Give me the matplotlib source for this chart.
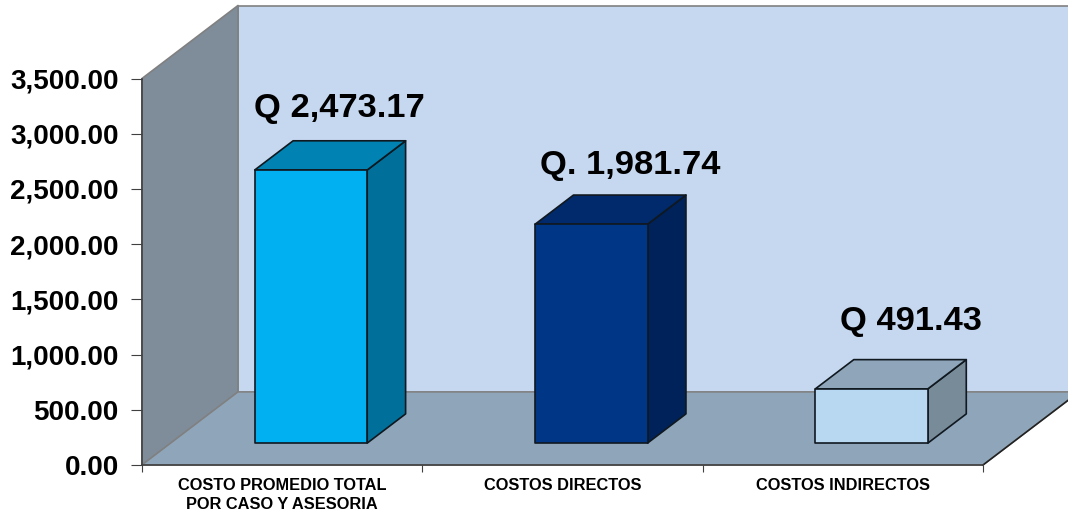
import numpy as np
import matplotlib
matplotlib.use('Agg')
import matplotlib.pyplot as plt
from matplotlib.patches import Polygon

plt.rcParams['font.family'] = ['Liberation Sans', 'DejaVu Sans']

# data
categories = ['COSTO PROMEDIO TOTAL\nPOR CASO Y ASESORIA', 'COSTOS DIRECTOS', 'COSTOS INDIRECTOS']
values = [2473.17, 1981.74, 491.43]
labels = ['Q 2,473.17', 'Q. 1,981.74', 'Q 491.43']
yticks = [0, 500, 1000, 1500, 2000, 2500, 3000, 3500]

# bar colours: front, side, top
front = ['#00B0F0', '#003686', '#B8D8F2']
side = ['#006F9A', '#00225A', '#788B99']
top = ['#0083B3', '#002A6B', '#8FA6BA']

# label centres in data units
label_x = [0.703, 1.741, 2.744]
label_y = [3224, 2708, 1296]

W, H = 1068, 513
fig = plt.figure(figsize=(W/100, H/100), dpi=100)
ax = fig.add_axes([142/W, 1 - 465/H, (983-142)/W, (465-78.5)/H])
ax.set_xlim(0, 3)
ax.set_ylim(0, 3500)
ax.patch.set_visible(False)

# depth of the box in data units
ppx = 3 / (983 - 142)
ppy = 3500 / (465 - 78.5)
dx = 96 * ppx
dy = 73 * ppy

def proj(x, y, z):
    return (x + z*dx, y + z*dy)

def poly(pts, fc, ec='black', lw=1.0, zo=2):
    ax.add_patch(Polygon(pts, closed=True, facecolor=fc, edgecolor=ec, linewidth=lw,
                         clip_on=False, zorder=zo, joinstyle='round'))

# walls and floor
poly([proj(0, 0, 1), proj(3, 0, 1), proj(3, 3500, 1), proj(0, 3500, 1)], '#C6D8F0', '#808080', 1.2, 1)
poly([proj(0, 0, 0), proj(0, 0, 1), proj(0, 3500, 1), proj(0, 3500, 0)], '#7F8C99', '#808080', 1.2, 1)
poly([proj(0, 0, 0), proj(3, 0, 0), proj(3, 0, 1), proj(0, 0, 1)], '#8FA6BA', '#808080', 1.0, 1)
ax.plot(*zip(proj(3, 0, 0), proj(3, 0, 1)), color='#222222', lw=1.2, clip_on=False, zorder=1.5)

# bars
width = 112.5 * ppx
z0, z1 = 0.30, 0.70
for i, v in enumerate(values):
    x0 = i + 0.5 - width/2
    x1 = x0 + width
    base = 0
    # side and top first, front on top
    poly([proj(x1, base, z0), proj(x1, base, z1), proj(x1, v, z1), proj(x1, v, z0)], side[i], '#101820', 1.2, 2)
    poly([proj(x0, v, z0), proj(x1, v, z0), proj(x1, v, z1), proj(x0, v, z1)], top[i], '#101820', 1.2, 2)
    poly([proj(x0, base, z0), proj(x1, base, z0), proj(x1, v, z0), proj(x0, v, z0)], front[i], '#101820', 1.2, 3)
    ax.text(label_x[i], label_y[i], labels[i], ha='center', va='center', fontsize=24.8,
            fontweight='bold', color='black', zorder=5)

# axes
for s in ['top', 'right']:
    ax.spines[s].set_visible(False)
for s in ['left', 'bottom']:
    ax.spines[s].set_color('#404040')
    ax.spines[s].set_linewidth(1.2)
    ax.spines[s].set_zorder(4)
ax.set_yticks(yticks)
ax.set_yticklabels(['{:,.2f}'.format(t) for t in yticks], fontsize=20, fontweight='bold')
ax.set_xticks([0, 1, 2, 3])
ax.set_xticklabels([])
ax.set_xticks([0.5, 1.5, 2.5], minor=True)
ax.set_xticklabels(categories, minor=True, fontsize=11.8, fontweight='bold', linespacing=1.35)
ax.tick_params(axis='x', which='minor', length=0, pad=9)
ax.tick_params(axis='x', which='major', length=5, color='#404040')
ax.tick_params(axis='y', length=8, color='#404040', pad=8.7)

fig.savefig('out.png', dpi=100)
